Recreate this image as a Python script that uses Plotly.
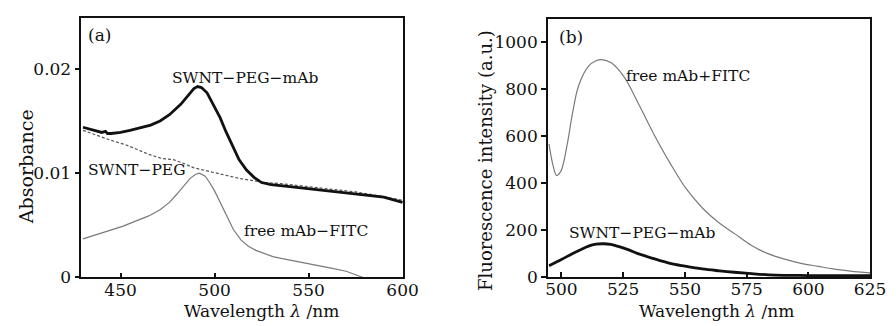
import plotly.graph_objects as go

# ---- Panel (a): absorbance ----
a_mab_x = [430, 436, 440, 442, 443, 445, 450, 455, 461, 466, 471, 476, 482, 486, 489, 491, 493, 496, 499, 503, 506, 510, 513, 517, 521, 525, 530, 540, 550, 560, 572, 580, 590, 600]
a_mab_y = [.0144, .0141, .0139, .0140, .0138, .0138, .0139, .0141, .0144, .0146, .0150, .0156, .0166, .0175, .0181, .0183, .0182, .0177, .0167, .0153, .0140, .0125, .0113, .0103, .0096, .0091, .0089, .0087, .0085, .0083, .0080, .0079, .0077, .0072]

a_peg_x = [430, 436, 444, 453, 460, 465, 472, 478, 484, 489, 494, 499, 505, 513, 520, 527, 535, 545, 555, 565, 575, 585, 600]
a_peg_y = [.0141, .0137, .0132, .0127, .0122, .0118, .0114, .0113, .0109, .0105, .0103, .0101, .0098, .0095, .0093, .0091, .0090, .0088, .0086, .0084, .0082, .0079, .0074]

a_fitc_x = [430, 437, 444, 451, 458, 465, 471, 476, 480, 484, 487, 490, 492, 495, 497, 500, 503, 506, 510, 514, 518, 522, 526, 531, 536, 542, 548, 555, 562, 570, 575, 579]
a_fitc_y = [.0037, .0041, .0045, .0049, .0054, .0059, .0065, .0072, .0080, .0089, .0095, .0099, .0100, .0097, .0092, .0083, .0072, .0060, .0046, .0036, .0030, .0026, .0023, .0020, .0018, .0016, .0014, .0012, .0009, .0006, .0003, .0000]

a_xticks = [450, 500, 550, 600]
a_yticks = [0, 0.01, 0.02]
a_yticklabels = ["0", "0.01", "0.02"]

# ---- Panel (b): fluorescence ----
b_fitc_x = [495, 496.4, 498, 499.8, 502.4, 504.4, 507, 511, 514, 516.3, 520.2, 525.5, 530.8, 537.4, 544, 550.6, 557.2, 563.8, 570.4, 577, 583.6, 590, 597, 604, 610, 617, 625]
b_fitc_y = [567, 485, 433, 451, 567, 691, 815, 897, 920, 925, 911, 849, 746, 609, 485, 375, 293, 231, 183, 135, 100, 78, 59, 46, 35, 26, 18]

b_mab_x = [495, 500, 504.4, 508, 511, 514, 517, 520, 523, 527, 531, 537, 544, 550, 557, 564, 570, 577, 584, 590, 600, 610, 625]
b_mab_y = [49, 75, 100, 118, 132, 140, 142, 139, 131, 117, 100, 80, 59, 47, 35, 27, 21, 15, 10, 8, 7, 6, 6]

b_xticks = [500, 525, 550, 575, 600, 625]
b_yticks = [0, 200, 400, 600, 800, 1000]

FONT = "DejaVu Serif"
W, H = 896, 326

fig = go.Figure()
fig.add_trace(go.Scatter(x=a_fitc_x, y=a_fitc_y, mode="lines", line=dict(color="#7a7a7a", width=1.2), xaxis="x", yaxis="y"))
fig.add_trace(go.Scatter(x=a_peg_x, y=a_peg_y, mode="lines", line=dict(color="#555555", width=1.2, dash="3px,2px"), xaxis="x", yaxis="y"))
fig.add_trace(go.Scatter(x=a_mab_x, y=a_mab_y, mode="lines", line=dict(color="#111111", width=2.8), xaxis="x", yaxis="y"))
fig.add_trace(go.Scatter(x=b_fitc_x, y=b_fitc_y, mode="lines", line=dict(color="#7a7a7a", width=1.2, shape="spline"), xaxis="x2", yaxis="y2"))
fig.add_trace(go.Scatter(x=b_mab_x, y=b_mab_y, mode="lines", line=dict(color="#111111", width=2.8, shape="spline"), xaxis="x2", yaxis="y2"))

def px(x):
    return x / W

def py(y):
    return 1 - y / H

axis_common = dict(showline=True, linecolor="#111", linewidth=1.8, mirror=True, showgrid=False, zeroline=False,
                   tickfont=dict(family=FONT, size=17, color="#111"), ticklen=5, tickcolor="#111", tickwidth=1.5)

fig.update_layout(
    width=W, height=H, margin=dict(l=0, r=0, t=0, b=0),
    paper_bgcolor="white", plot_bgcolor="white", showlegend=False,
    font=dict(family=FONT, color="#111"),
    xaxis=dict(domain=[px(72), px(401)], range=[429.2, 600.5], tickvals=a_xticks, ticks="inside", anchor="y",
               ticklabelstandoff=-4, **axis_common),
    yaxis=dict(domain=[py(278), py(10)], range=[0, 0.0249], tickvals=a_yticks, ticktext=a_yticklabels, ticks="outside", anchor="x", **axis_common),
    xaxis2=dict(domain=[px(548.7), px(877.7)], range=[494.6, 625], tickvals=b_xticks, ticks="inside", anchor="y2",
                ticklabelstandoff=-4, **axis_common),
    yaxis2=dict(domain=[py(277.7), py(11.7)], range=[0, 1096], tickvals=b_yticks, ticks="outside", anchor="x2", **axis_common),
)

def ann(text, x, y, size=15.5, angle=0, xanchor="center"):
    fig.add_annotation(text=text, x=px(x), y=py(y), xref="paper", yref="paper", showarrow=False,
                       font=dict(family=FONT, size=size, color="#111"), textangle=angle,
                       xanchor=xanchor, yanchor="middle")

ann("(a)", 90, 28, size=17)
ann("SWNT−PEG−mAb", 239.5, 72)
ann("SWNT−PEG", 77, 167, xanchor="left")
ann("free mAb−FITC", 301, 230)
ann("(b)", 572, 30, size=17)
ann("free mAb+FITC", 691.5, 70)
ann("SWNT−PEG−mAb", 645, 232)
ann("Absorbance", 15.5, 164, size=19, angle=-90)
ann("Fluorescence intensity (a.u.)", 484, 157, size=18, angle=-90)
ann("Wavelength <i>λ</i> /nm", 256, 313, size=17)
ann("Wavelength <i>λ</i> /nm", 721, 313, size=17)

fig.write_html("out.html")
